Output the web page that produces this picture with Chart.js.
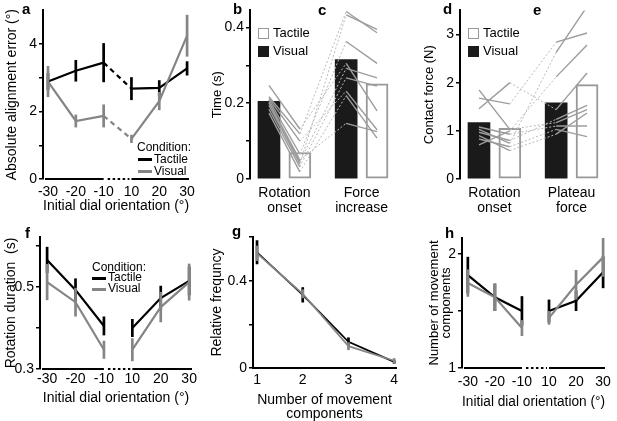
<!DOCTYPE html>
<html>
<head>
<meta charset="utf-8">
<script src="https://cdn.jsdelivr.net/npm/chart.js@4.4.1/dist/chart.umd.min.js"></script>
<style>
html, body { margin: 0; padding: 0; background: #fff; }
body { width: 617px; height: 421px; position: relative; overflow: hidden;
       font-family: "Liberation Sans", Arial, sans-serif; color: #000; }
canvas { position: absolute; }
.txt { position: absolute; white-space: nowrap; }
.lt { font-weight: bold; font-size: 15px; line-height: 16px; }
.lg { font-size: 12px; line-height: 14px; }
.lb { font-size: 13px; line-height: 15px; }
.sw { position: absolute; height: 3px; width: 14px; }
.bx { position: absolute; width: 11px; height: 11px; box-sizing: border-box; }
</style>
</head>
<body>
<canvas id="pa" width="200" height="215" style="left:0;top:0"></canvas>
<canvas id="pb" width="200" height="215" style="left:205px;top:0"></canvas>
<canvas id="pd" width="202" height="215" style="left:415px;top:0"></canvas>
<canvas id="pf" width="200" height="206" style="left:0;top:215px"></canvas>
<canvas id="pg" width="200" height="206" style="left:205px;top:215px"></canvas>
<canvas id="ph" width="202" height="206" style="left:415px;top:215px"></canvas>

<!-- panel letters -->
<div class="txt lt" style="left:22px;top:1px">a</div>
<div class="txt lt" style="left:233px;top:1px">b</div>
<div class="txt lt" style="left:318px;top:2px">c</div>
<div class="txt lt" style="left:443px;top:1px">d</div>
<div class="txt lt" style="left:533px;top:2px">e</div>
<div class="txt lt" style="left:25px;top:225px">f</div>
<div class="txt lt" style="left:232px;top:223px">g</div>
<div class="txt lt" style="left:445px;top:225px">h</div>

<!-- legend a -->
<div class="txt lg" style="left:137px;top:140px">Condition:</div>
<div class="sw" style="left:138px;top:158px;background:#000"></div>
<div class="txt lg" style="left:154px;top:152px">Tactile</div>
<div class="sw" style="left:138px;top:170px;background:#858585"></div>
<div class="txt lg" style="left:154px;top:164px">Visual</div>

<!-- legend f -->
<div class="txt lg" style="left:92px;top:260px">Condition:</div>
<div class="sw" style="left:92px;top:277px;background:#000"></div>
<div class="txt lg" style="left:108px;top:270px">Tactile</div>
<div class="sw" style="left:92px;top:288px;background:#858585"></div>
<div class="txt lg" style="left:108px;top:281px">Visual</div>

<!-- legend b -->
<div class="bx" style="left:258px;top:28px;border:1.5px solid #999;background:#fff"></div>
<div class="txt lb" style="left:273px;top:25px">Tactile</div>
<div class="bx" style="left:258px;top:46px;background:#1a1a1a"></div>
<div class="txt lb" style="left:273px;top:43px">Visual</div>

<!-- legend d -->
<div class="bx" style="left:468px;top:28px;border:1.5px solid #999;background:#fff"></div>
<div class="txt lb" style="left:483px;top:25px">Tactile</div>
<div class="bx" style="left:468px;top:46px;background:#1a1a1a"></div>
<div class="txt lb" style="left:483px;top:43px">Visual</div>

<script>
// ---------- data ----------
const orientPos = [0, 1, 2, 3, 4, 5];
const orientLabels = ['-30', '-20', '-10', '10', '20', '30'];

// a: absolute alignment error (deg), mean and error
const alignTactile   = [2.89, 3.21, 3.45, 2.68, 2.70, 3.28];
const alignTactileSE = [0.25, 0.32, 0.58, 0.34, 0.23, 0.21];
const alignVisual    = [2.89, 1.72, 1.87, 1.19, 2.31, 4.25];
const alignVisualSE  = [0.46, 0.19, 0.34, 0.12, 0.27, 0.62];
const alignTicks  = [0, 1, 2, 3, 4];
const alignLabels = ['0', '', '2', '', '4'];

// b/c: timing (s)
const timeBarVisual  = [0.205, 0.315];
const timeBarTactile = [0.070, 0.251];
const timeTicks  = [0, 0.1, 0.2, 0.3, 0.4];
const timeLabels = ['0', '', '0.2', '', '0.4'];
const rotOnsetVisual  = [0.247, 0.217, 0.213, 0.209, 0.203, 0.200, 0.194, 0.184, 0.174];
const rotOnsetTactile = [0.132, 0.119, 0.100, 0.066, 0.050, 0.045, 0.040, 0.032, 0.019];
const forceIncVisual  = [0.305, 0.442, 0.232, 0.363, 0.147, 0.292, 0.433, 0.267, 0.220];
const forceIncTactile = [0.180, 0.386, 0.130, 0.305, 0.125, 0.267, 0.395, 0.245, 0.108];

// d/e: contact force (N)
const forceBarVisual  = [1.17, 1.58];
const forceBarTactile = [1.05, 1.96];
const forceTicks  = [0, 1, 2, 3];
const forceLabels = ['0', '1', '2', '3'];
const rotForceVisual  = [1.85, 1.68, 1.46, 1.08, 1.03, 0.97, 0.90, 0.83, 0.71];
const rotForceTactile = [1.03, 1.56, 2.00, 0.93, 0.74, 0.80, 0.59, 0.67, 1.00];
const plateauVisual   = [1.17, 2.84, 1.44, 1.10, 2.63, 1.24, 0.93, 1.03, 2.12];
const plateauTactile  = [1.44, 3.03, 2.20, 1.10, 3.58, 1.53, 1.37, 0.88, 2.78];

// bar slots: visual / tactile for each of the two measures
const slotVisual  = [1, 3.5];
const slotTactile = [2, 4.5];
const subjSlots   = [1, 2, 3.5, 4.5];
const slotLabelPos = [1.5, 4];
const timeCats  = [['Rotation', 'onset'], ['Force', 'increase']];
const forceCats = [['Rotation', 'onset'], ['Plateau', 'force']];

// f: rotation duration (s)
const durTactile   = [0.566, 0.493, 0.405, 0.400, 0.473, 0.515];
const durTactileSE = [0.032, 0.028, 0.023, 0.022, 0.030, 0.035];
const durVisual    = [0.512, 0.463, 0.347, 0.347, 0.451, 0.512];
const durVisualSE  = [0.044, 0.035, 0.022, 0.028, 0.037, 0.045];
const durTicks  = [0.3, 0.4, 0.5, 0.6];
const durLabels = ['0.3', '', '0.5', ''];

// g: relative frequency of number of components
const compCount = [1, 2, 3, 4];
const freqTactile   = [0.530, 0.335, 0.120, 0.028];
const freqTactileSE = [0.055, 0.035, 0.020, 0.008];
const freqVisual    = [0.525, 0.340, 0.100, 0.033];
const freqVisualSE  = [0.035, 0.020, 0.018, 0.012];
const freqTicks  = [0, 0.2, 0.4, 0.6];
const freqLabels = ['0', '', '0.4', ''];

// h: number of movement components
const compTactile   = [1.815, 1.62, 1.50, 1.50, 1.59, 1.84];
const compTactileSE = [0.16, 0.12, 0.13, 0.10, 0.09, 0.14];
const compVisual    = [1.745, 1.62, 1.35, 1.44, 1.73, 1.97];
const compVisualSE  = [0.12, 0.12, 0.07, 0.06, 0.13, 0.17];
const compTicks  = [1, 1.5, 2];
const compLabels = ['1', '', '2'];

// ---------- styling ----------
const BLACK = '#000000';
const GRAY = '#858585';
const FONT = '"Liberation Sans", Arial, sans-serif';
Chart.defaults.font.family = FONT;
Chart.defaults.color = '#000';

function pts(xs, ys) {
    return xs.map((x, i) => ({ x: x, y: ys[i] }));
}

// vertical error bars, drawn right after their own line
const errorBars = {
    id: 'errorBars',
    afterDatasetDraw(chart, args) {
        const ds = chart.data.datasets[args.index];
        if (!ds.errors) return;
        const xs = chart.scales.x, ys = chart.scales.y, c = chart.ctx;
        c.save();
        c.strokeStyle = ds.borderColor;
        c.lineWidth = ds.errWidth || 2.5;
        ds.data.forEach((p, i) => {
            const px = xs.getPixelForValue(p.x);
            c.beginPath();
            c.moveTo(px, ys.getPixelForValue(p.y - ds.errors[i]));
            c.lineTo(px, ys.getPixelForValue(p.y + ds.errors[i]));
            c.stroke();
        });
        c.restore();
    }
};
Chart.register(errorBars);

// x axis broken between -10 and 10 (dotted part)
const splitAxis = {
    id: 'splitAxis',
    afterDraw(chart) {
        const xs = chart.scales.x, a = chart.chartArea, c = chart.ctx;
        const y = a.bottom;
        c.save();
        c.strokeStyle = BLACK;
        c.lineWidth = 2;
        c.beginPath();
        c.moveTo(a.left + 2, y); c.lineTo(xs.getPixelForValue(2), y);
        c.moveTo(xs.getPixelForValue(3), y); c.lineTo(a.right, y);
        c.stroke();
        c.setLineDash([2.5, 2.5]);
        c.beginPath();
        c.moveTo(xs.getPixelForValue(2) + 4, y); c.lineTo(xs.getPixelForValue(3) - 2, y);
        c.stroke();
        c.restore();
    }
};

function baseOpts(padTop, padRight) {
    return {
        responsive: false,
        maintainAspectRatio: false,
        animation: false,
        layout: { padding: { top: padTop, right: padRight, left: 0, bottom: 0 } },
        plugins: { legend: { display: false }, tooltip: { enabled: false } }
    };
}

function yAxis(min, max, tickVals, tickText, title, width, titlePad, titleSize, titleLH) {
    return {
        type: 'linear', min: min, max: max,
        afterFit: s => { s.width = width; },
        afterBuildTicks: s => { s.ticks = tickVals.map(v => ({ value: v })); },
        border: { display: true, color: BLACK, width: 2 },
        grid: { display: true, drawOnChartArea: false, drawTicks: true, tickLength: 4, color: BLACK, lineWidth: 1.5 },
        ticks: { padding: 2, font: { size: 14 }, color: BLACK,
                 callback: (v, i) => tickText[i] },
        title: { display: true, text: title, color: BLACK,
                 font: { size: titleSize, lineHeight: titleLH || 1.2 },
                 padding: { top: titlePad, bottom: 0 } }
    };
}

function xAxis(min, max, tickVals, tickText, height, tickPad, title, titlePad, opts) {
    opts = opts || {};
    return {
        type: 'linear', min: min, max: max, offset: false,
        afterFit: s => { s.height = height; },
        afterBuildTicks: s => { s.ticks = tickVals.map(v => ({ value: v })); },
        border: { display: !!opts.border, color: BLACK, width: 2 },
        grid: { display: false, drawTicks: false },
        ticks: { padding: tickPad, font: { size: 14, lineHeight: opts.tickLH || 1.2 }, color: BLACK,
                 maxRotation: 0, autoSkip: false, callback: (v, i) => tickText[i] },
        title: { display: !!title, text: title, color: BLACK,
                 font: { size: 14, lineHeight: opts.titleLH || 1.2 },
                 padding: { top: 0, bottom: titlePad } }
    };
}

function series(xs, ys, se, color, order, gap, width) {
    const ds = {
        type: 'line', data: pts(xs, ys), errors: se,
        borderColor: color, borderWidth: width || 2.2, errWidth: 2.7,
        pointRadius: 0, tension: 0, fill: false, order: order
    };
    if (gap === 'dash') {
        ds.segment = { borderDash: c => c.p0DataIndex === 2 ? [5, 4] : undefined };
    } else if (gap === 'none') {
        ds.segment = { borderColor: c => c.p0DataIndex === 2 ? 'rgba(0,0,0,0)' : undefined };
    }
    return ds;
}

function subjectLines(a, b, c, d) {
    return a.map((v, i) => ({
        type: 'line',
        data: pts(subjSlots, [a[i], b[i], c[i], d[i]]),
        borderColor: '#9c9c9c', borderWidth: 1.4,
        pointRadius: 0, tension: 0, fill: false, order: 1,
        segment: {
            borderDash: s => s.p0DataIndex === 1 ? [2, 2] : undefined,
            borderColor: s => s.p0DataIndex === 1 ? '#b9b9b9' : undefined,
            borderWidth: s => s.p0DataIndex === 1 ? 1 : undefined
        }
    }));
}

function bars(values, slots, filled) {
    return {
        type: 'bar', data: pts(slots, values), grouped: false,
        barThickness: 22, order: 10,
        backgroundColor: filled ? '#1a1a1a' : '#ffffff',
        borderColor: filled ? '#1a1a1a' : '#999999',
        borderWidth: filled ? 0 : 2, borderSkipped: false
    };
}

// ---------- a ----------
new Chart(document.getElementById('pa'), {
    type: 'line',
    data: { datasets: [
        series(orientPos, alignTactile, alignTactileSE, BLACK, 2, 'dash'),
        series(orientPos, alignVisual, alignVisualSE, GRAY, 1, 'dash')
    ] },
    options: Object.assign(baseOpts(7, 10), {
        scales: {
            x: xAxis(-0.18, 5.07, orientPos, orientLabels, 36, 5, 'Initial dial orientation (°)', 0),
            y: yAxis(0, 5, alignTicks, alignLabels, 'Absolute alignment error (°)', 43, 4, 14)
        }
    }),
    plugins: [splitAxis]
});

// ---------- b/c ----------
new Chart(document.getElementById('pb'), {
    type: 'line',
    data: { datasets: [
        bars(timeBarVisual, slotVisual, true),
        bars(timeBarTactile, slotTactile, false)
    ].concat(subjectLines(rotOnsetVisual, rotOnsetTactile, forceIncVisual, forceIncTactile)) },
    options: Object.assign(baseOpts(7, 13), {
        scales: {
            x: xAxis(0.385, 4.985, slotLabelPos, timeCats, 36, 6, '', 0, { tickLH: 1.1 }),
            y: yAxis(0, 0.445, timeTicks, timeLabels, 'Time (s)', 45, 5, 13)
        }
    })
});

// ---------- d/e ----------
new Chart(document.getElementById('pd'), {
    type: 'line',
    data: { datasets: [
        bars(forceBarVisual, slotVisual, true),
        bars(forceBarTactile, slotTactile, false)
    ].concat(subjectLines(rotForceVisual, rotForceTactile, plateauVisual, plateauTactile)) },
    options: Object.assign(baseOpts(7, 15), {
        scales: {
            x: xAxis(0.385, 4.985, slotLabelPos, forceCats, 36, 6, '', 0, { tickLH: 1.1 }),
            y: yAxis(0, 3.5, forceTicks, forceLabels, 'Contact force (N)', 45, 7, 13)
        }
    })
});

// ---------- f ----------
new Chart(document.getElementById('pf'), {
    type: 'line',
    data: { datasets: [
        series(orientPos, durTactile, durTactileSE, BLACK, 2, 'none'),
        series(orientPos, durVisual, durVisualSE, GRAY, 1, 'none')
    ] },
    options: Object.assign(baseOpts(22, 8), {
        scales: {
            x: xAxis(-0.25, 5.1, orientPos, orientLabels, 52, 2, 'Initial dial orientation (°)', 14),
            y: yAxis(0.3, 0.622, durTicks, durLabels, 'Rotation duration  (s)', 40, 3, 14)
        }
    }),
    plugins: [splitAxis]
});

// ---------- g ----------
new Chart(document.getElementById('pg'), {
    type: 'line',
    data: { datasets: [
        series(compCount, freqTactile, freqTactileSE, BLACK, 2, null, 1.7),
        series(compCount, freqVisual, freqVisualSE, GRAY, 1, null, 1.7)
    ] },
    options: Object.assign(baseOpts(22, 9), {
        scales: {
            x: xAxis(0.912, 4.04, compCount, compCount.map(String), 53, 4,
                     ['Number of movement', 'components'], 0, { border: true, titleLH: 1.0 }),
            y: yAxis(0, 0.6, freqTicks, freqLabels, 'Relative frequncy', 48, 4, 14)
        }
    })
});

// ---------- h ----------
new Chart(document.getElementById('ph'), {
    type: 'line',
    data: { datasets: [
        series(orientPos, compTactile, compTactileSE, BLACK, 2, 'none'),
        series(orientPos, compVisual, compVisualSE, GRAY, 1, 'none')
    ] },
    options: Object.assign(baseOpts(23, 8), {
        scales: {
            x: xAxis(-0.216, 5.07, orientPos, orientLabels, 53, 6, 'Initial dial orientation (°)', 10),
            y: yAxis(1, 2.14, compTicks, compLabels, ['Number of movement', 'components'], 47, 13, 13, 0.95)
        }
    }),
    plugins: [splitAxis]
});
</script>
</body>
</html>
